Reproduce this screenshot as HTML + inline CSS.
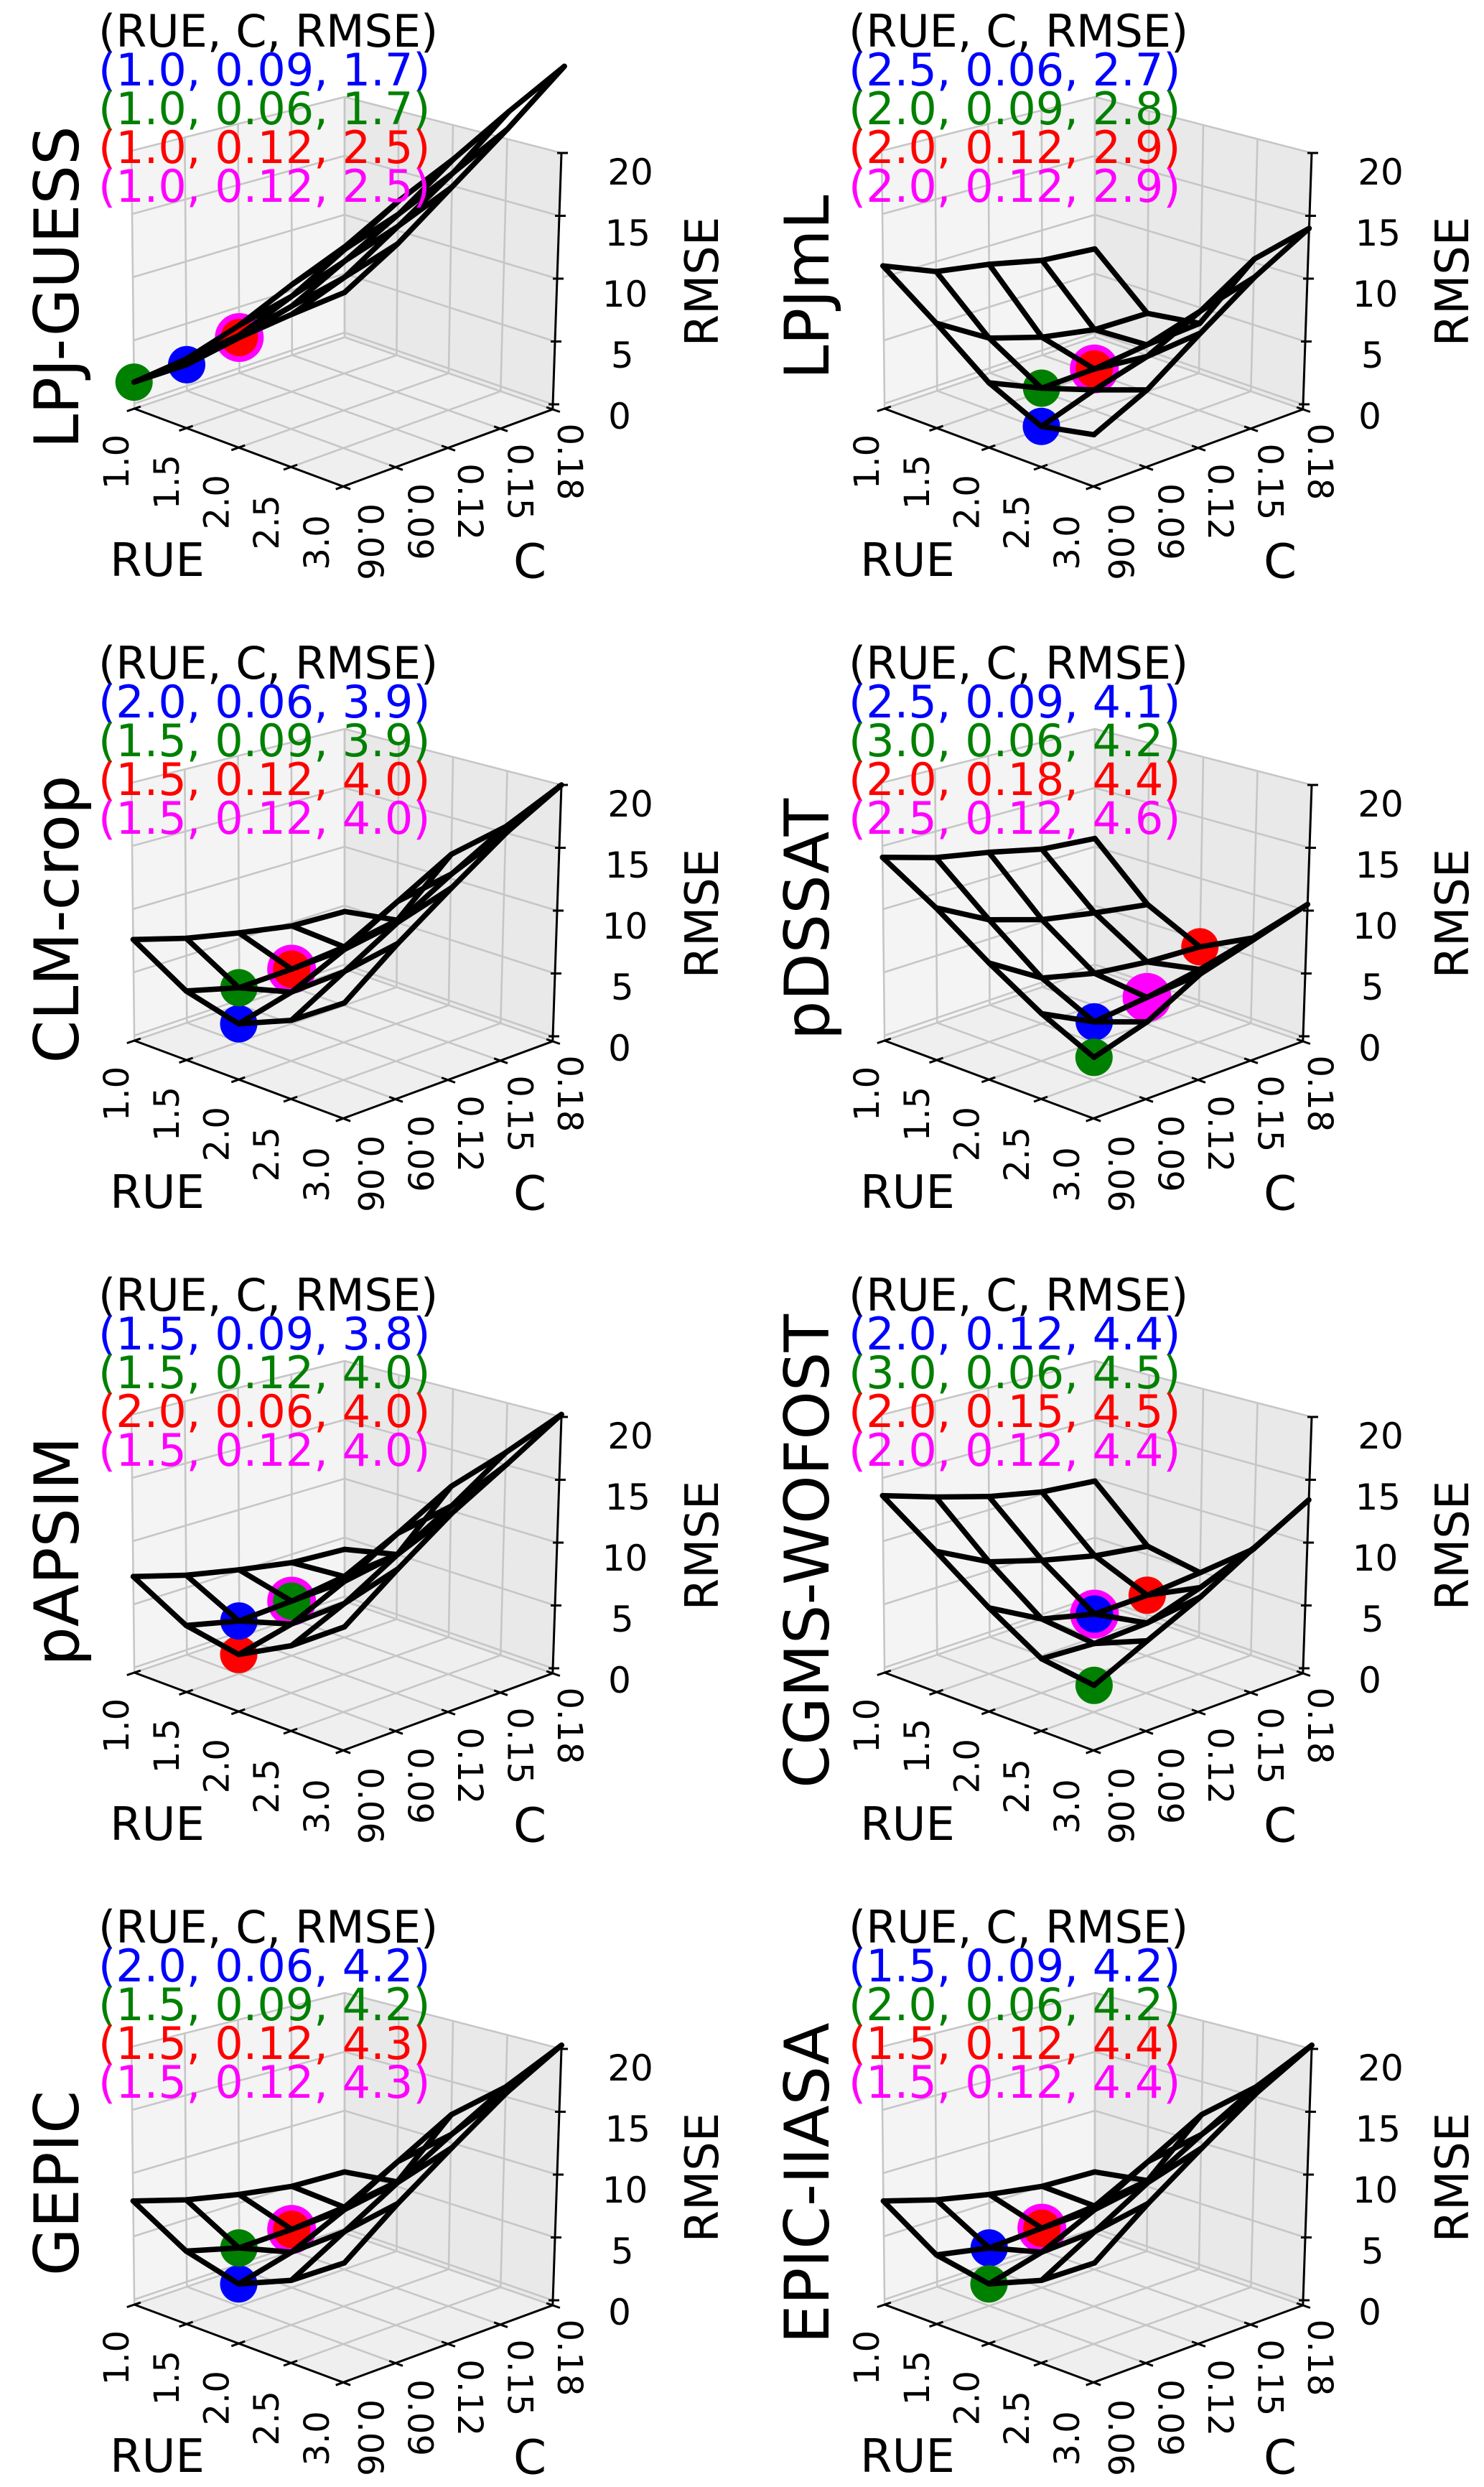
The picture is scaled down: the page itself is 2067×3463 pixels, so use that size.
<!DOCTYPE html>
<html>
<head>
<meta charset="utf-8">
<style>
  html,body{margin:0;padding:0;background:#ffffff;}
  svg{display:block;font-family:"DejaVu Sans","Liberation Sans",sans-serif;}
</style>
</head>
<body>
<svg id="fig" xmlns="http://www.w3.org/2000/svg" width="2067" height="3463" viewBox="0 0 2067 3463">
<rect x="0" y="0" width="2067" height="3463" fill="#ffffff"></rect>
</svg>
<script>
// ---------- data ----------
const modelNames = ['LPJ-GUESS','LPJmL','CLM-crop','pDSSAT','pAPSIM','CGMS-WOFOST','GEPIC','EPIC-IIASA'];
const rueValues = [1.0, 1.5, 2.0, 2.5, 3.0];
const cValues = [0.06, 0.09, 0.12, 0.15, 0.18];
const rueTickLabels = ['1.0','1.5','2.0','2.5','3.0'];
const cTickLabels = ['0.06','0.09','0.12','0.15','0.18'];
const zTickValues = [0, 5, 10, 15, 20];
const zTickLabels = ['0','5','10','15','20'];

// RMSE grids: rows = RUE (1.0..3.0), cols = C (0.06..0.18)
const rmseLPJGUESS = [[1.7,1.7,2.5,3.0,3.4],[5.0,5.5,6.5,7.5,8.9],[9.0,10.0,11.5,13.0,14.9],[13.5,15.0,16.5,18.5,20.8],[17.7,20.0,22.0,24.5,26.9]];
const rmseLPJmL = [[10.9,9.2,8.5,7.5,7.1],[7.8,5.3,4.0,3.2,3.1],[4.6,2.8,2.9,3.4,3.7],[2.7,4.1,5.3,7.5,10.3],[3.5,5.5,8.5,11.5,14.0]];
const rmseCLM = [[7.6,6.4,5.5,4.7,4.5],[5.0,3.9,4.0,4.4,5.2],[3.9,5.0,7.0,9.5,12.0],[5.6,8.0,10.5,13.0,15.5],[8.3,11.5,14.5,17.5,20.0]];
const rmsePDSSAT = [[14.1,12.9,12.1,11.1,10.7],[11.5,9.3,8.0,7.2,6.5],[8.6,6.1,5.1,4.6,4.4],[6.1,4.1,4.6,5.4,6.5],[4.2,5.5,7.8,9.1,10.5]];
const rmsePAPSIM = [[7.2,6.0,5.1,4.3,4.0],[4.8,3.8,4.0,4.6,5.0],[4.0,5.0,7.0,9.5,12.0],[6.1,8.0,10.5,13.0,16.0],[8.9,12.0,15.0,17.5,20.2]];
const rmseCGMS = [[13.6,12.3,11.1,10.2,9.8],[10.6,8.5,7.3,6.3,5.7],[7.6,5.4,4.4,4.5,4.9],[5.1,4.9,5.1,6.5,8.2],[4.5,6.5,8.5,11.0,13.4]];
const rmseGEPIC = [[7.8,6.6,5.7,5.0,4.8],[5.3,4.2,4.3,4.7,5.4],[4.2,5.3,7.3,9.8,12.3],[5.9,8.3,10.8,13.3,15.8],[8.6,11.8,14.8,17.8,20.3]];
const rmseEPIC = [[7.8,6.6,5.7,5.0,4.8],[5.0,4.2,4.4,4.8,5.5],[4.2,5.3,7.3,9.8,12.3],[5.9,8.3,10.8,13.3,15.8],[8.6,11.8,14.8,17.8,20.3]];
const rmseGrids = [rmseLPJGUESS, rmseLPJmL, rmseCLM, rmsePDSSAT, rmsePAPSIM, rmseCGMS, rmseGEPIC, rmseEPIC];

// best-fit markers per model: [RUE, C, RMSE]
const blueMarkers = [[1.0,0.09,1.7],[2.5,0.06,2.7],[2.0,0.06,3.9],[2.5,0.09,4.1],[1.5,0.09,3.8],[2.0,0.12,4.4],[2.0,0.06,4.2],[1.5,0.09,4.2]];
const greenMarkers = [[1.0,0.06,1.7],[2.0,0.09,2.8],[1.5,0.09,3.9],[3.0,0.06,4.2],[1.5,0.12,4.0],[3.0,0.06,4.5],[1.5,0.09,4.2],[2.0,0.06,4.2]];
const redMarkers = [[1.0,0.12,2.5],[2.0,0.12,2.9],[1.5,0.12,4.0],[2.0,0.18,4.4],[2.0,0.06,4.0],[2.0,0.15,4.5],[1.5,0.12,4.3],[1.5,0.12,4.4]];
const magentaMarkers = [[1.0,0.12,2.5],[2.0,0.12,2.9],[1.5,0.12,4.0],[2.5,0.12,4.6],[1.5,0.12,4.0],[2.0,0.12,4.4],[1.5,0.12,4.3],[1.5,0.12,4.4]];

// ---------- geometry ----------
const NS = 'http://www.w3.org/2000/svg';
const svg = document.getElementById('fig');
const COL_DX = 1045, ROW_DY = 880;
function bil(a,b,c,d,u,v){
  return a*(1-u)*(1-v)+b*u*(1-v)+c*u*v+d*(1-u)*v;
}
function proj(ox,oy,u,v,w){
  const fx = bil(187,478,770,480,u,v);
  const fy = bil(569,677,570,470,u,v);
  const s = bil(17.6,18.5,17.5,16.4,u,v);
  const kx = bil(-0.2,0.2,0.6,0,u,v);
  return [ox+fx+w*kx, oy+fy-7-w*s];
}
function uOf(r){ return (r-1.0)/2.0; }
function vOf(c){ return (c-0.06)/0.12; }
function mk(tag, attrs, parent){
  const el = document.createElementNS(NS, tag);
  for (const k in attrs) el.setAttribute(k, attrs[k]);
  (parent||svg).appendChild(el);
  return el;
}
function pts(arr){ return arr.map(p=>p[0].toFixed(1)+','+p[1].toFixed(1)).join(' '); }
function fmt(m){ return '(' + m[0].toFixed(1) + ', ' + m[1].toFixed(2) + ', ' + m[2].toFixed(1) + ')'; }

const FONT = '"DejaVu Sans","Liberation Sans",sans-serif';

modelNames.forEach((name, i) => {
  const col = i % 2, row = Math.floor(i/2);
  const ox = col*COL_DX, oy = row*ROW_DY;
  const P = (u,v,w) => proj(ox,oy,u,v,w);
  const g = mk('g', {});
  
  

  const zb = -0.4, zt = 20;
  const floor = mk('polygon', {points: pts([P(0,0,zb),P(1,0,zb),P(1,1,zb),P(0,1,zb)]), fill:'#efefef'}, g);
  
  
  const lw = mk('polygon', {points: pts([P(0,0,zb),P(0,1,zb),P(0,1,zt),P(0,0,zt)]), fill:'#f4f4f4'}, g);
  
  
  const rw = mk('polygon', {points: pts([P(0,1,zb),P(1,1,zb),P(1,1,zt),P(0,1,zt)]), fill:'#e9e9e9'}, g);
  
  

  const grid = mk('g', {stroke:'#c6c6c6', 'stroke-width':'2.6', fill:'none'}, g);
  
  
  for (let k=0;k<5;k++){
    const t = k/4;
    mk('polyline', {points: pts([P(t,0,zb),P(t,1,zb)])}, grid);
    mk('polyline', {points: pts([P(0,t,zb),P(1,t,zb)])}, grid);
    mk('polyline', {points: pts([P(0,t,zb),P(0,t,zt)])}, grid);
    mk('polyline', {points: pts([P(t,1,zb),P(t,1,zt)])}, grid);
  }
  zTickValues.forEach(z => {
    mk('polyline', {points: pts([P(0,0,z),P(0,1,z),P(1,1,z)])}, grid);
  });

  const axes = mk('g', {stroke:'#000000', 'stroke-width':'3', fill:'none'}, g);
  
  
  const ax1 = mk('polyline', {points: pts([P(0,0,zb),P(1,0,zb)])}, axes);
  
  
  const ax2 = mk('polyline', {points: pts([P(1,0,zb),P(1,1,zb)])}, axes);
  
  
  const ax3 = mk('polyline', {points: pts([P(1,1,zb),P(1,1,zt)])}, axes);
  
  
  for (let k=0;k<5;k++){
    const t=k/4;
    mk('polyline', {points: pts([P(t,-0.035,zb),P(t,0.03,zb)])}, axes);
    mk('polyline', {points: pts([P(1.035,t,zb),P(0.97,t,zb)])}, axes);
  }
  zTickValues.forEach(z => {
    const p = P(1,1,z);
    mk('line', {x1:p[0]-6, y1:p[1], x2:p[0]+9, y2:p[1]}, axes);
  });

  rueTickLabels.forEach((lab,k) => {
    const u = uOf(rueValues[k]);
    const p = P(u,0,zb);
    const x = p[0]-24-12*u, y = p[1]+74+4*u;
    const t = mk('text', {x:x, y:y, 'font-size':'48', 'text-anchor':'middle', 'dominant-baseline':'central', transform:'rotate(-90 '+x.toFixed(1)+' '+y.toFixed(1)+')', fill:'#000', 'font-family':FONT}, g);
    t.textContent = lab;
    
    
  });
  cTickLabels.forEach((lab,k) => {
    const v = vOf(cValues[k]);
    const p = P(1,v,zb);
    const x = p[0]+37-14*v, y = p[1]+77-4*v;
    const t = mk('text', {x:x, y:y, 'font-size':'48', 'text-anchor':'middle', 'dominant-baseline':'central', transform:'rotate(90 '+x.toFixed(1)+' '+y.toFixed(1)+')', fill:'#000', 'font-family':FONT}, g);
    t.textContent = lab;
    
    
  });
  zTickValues.forEach((z,k) => {
    const p = P(1,1,z);
    const t = mk('text', {x:p[0]+93+0.15*z, y:p[1]+17+0.5*z, 'font-size':'50', 'text-anchor':'middle', 'dominant-baseline':'central', fill:'#000', 'font-family':FONT}, g);
    t.textContent = zTickLabels[k];
    
    
  });

  const tRue = mk('text', {x:ox+219, y:oy+781, 'font-size':'64', 'text-anchor':'middle', 'dominant-baseline':'central', fill:'#000', 'font-family':FONT}, g);
  tRue.textContent = 'RUE';
  
  
  const tC = mk('text', {x:ox+738, y:oy+782, 'font-size':'66', 'text-anchor':'middle', 'dominant-baseline':'central', fill:'#000', 'font-family':FONT}, g);
  tC.textContent = 'C';
  
  
  const rx = ox+979, ry = oy+392;
  const tZ = mk('text', {x:rx, y:ry, 'font-size':'64', 'text-anchor':'middle', 'dominant-baseline':'central', transform:'rotate(-90 '+rx+' '+ry+')', fill:'#000', 'font-family':FONT}, g);
  tZ.textContent = 'RMSE';
  
  

  const nx = ox+80, ny = oy+400;
  const tN = mk('text', {x:nx, y:ny, 'font-size':'86', 'text-anchor':'middle', 'dominant-baseline':'central', transform:'rotate(-90 '+nx+' '+ny+')', fill:'#000', 'font-family':FONT}, g);
  tN.textContent = name;
  
  

  const mG = mk('g', {}, g);
  
  
  const markerSets = [[magentaMarkers[i],'#ff00ff',34,'marker-magenta'],[redMarkers[i],'#ff0000',26,'marker-red'],[blueMarkers[i],'#0000ff',26,'marker-blue'],[greenMarkers[i],'#008000',26,'marker-green']];
  markerSets.forEach(ms => {
    const m = ms[0];
    const p = P(uOf(m[0]), vOf(m[1]), m[2]);
    const c = mk('circle', {cx:p[0].toFixed(1), cy:p[1].toFixed(1), r:ms[2], fill:ms[1]}, mG);
    
    
  });

  const grd = rmseGrids[i];
  const wf = mk('g', {stroke:'#000', 'stroke-width':'7.5', fill:'none', 'stroke-linejoin':'round', 'stroke-linecap':'round'}, g);
  
  
  for (let a=0;a<rueValues.length;a++){
    const line = cValues.map((c,b) => P(uOf(rueValues[a]), vOf(c), grd[a][b]));
    const pl = mk('polyline', {points: pts(line)}, wf);
    
    
  }
  for (let b=0;b<cValues.length;b++){
    const line = rueValues.map((r,a) => P(uOf(r), vOf(cValues[b]), grd[a][b]));
    const pl = mk('polyline', {points: pts(line)}, wf);
    
    
  }

  const lines = [['(RUE, C, RMSE)','#000000','header-line'],[fmt(blueMarkers[i]),'#0000ff','blue-result-line'],[fmt(greenMarkers[i]),'#008000','green-result-line'],[fmt(redMarkers[i]),'#ff0000','red-result-line'],[fmt(magentaMarkers[i]),'#ff00ff','magenta-result-line']];
  lines.forEach((ln,k) => {
    const t = mk('text', {x:ox+137, y:oy+65+54*k, 'font-size':'62', fill:ln[1], 'font-family':FONT}, g);
    t.textContent = ln[0];
    
    
  });
});
</script>
</body>
</html>
